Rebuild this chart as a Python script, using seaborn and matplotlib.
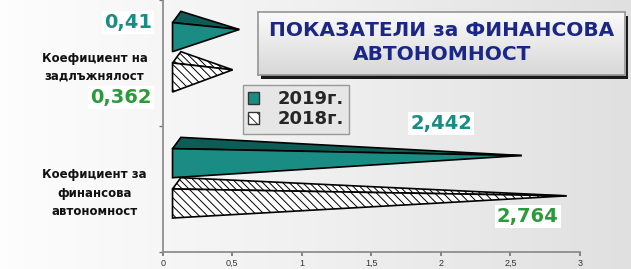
import numpy as np
import pandas as pd
import seaborn as sns
import matplotlib.pyplot as plt
from matplotlib.patches import Polygon, Rectangle, Patch
from matplotlib.colors import LinearSegmentedColormap

indicators = ['Коефициент на\nзадлъжнялост', 'Коефициент за\nфинансова\nавтономност']
years = ['2019г.', '2018г.']
values_2019 = [0.41, 2.442]
values_2018 = [0.362, 2.764]
labels_2019 = ['0,41', '2,442']
labels_2018 = ['0,362', '2,764']
x_ticks = [0, 0.5, 1, 1.5, 2, 2.5, 3]
x_tick_labels = ['0', '0,5', '1', '1,5', '2', '2,5', '3']
title = 'ПОКАЗАТЕЛИ за ФИНАНСОВА\nАВТОНОМНОСТ'

df = pd.DataFrame({
    'indicator': indicators * 2,
    'year': [years[0]] * 2 + [years[1]] * 2,
    'value': values_2019 + values_2018,
})

TEAL = '#1b8c84'
TEAL_DARK = '#0d5c56'
GREEN = '#2a9a3a'
NAVY = '#1b2787'
DEPTH = 0.07   # fake 3d depth along x, data units
LIFT = 0.09    # fake 3d lift along y, data units

sns.set_theme(style='white')
plt.rcParams['font.family'] = ['Liberation Sans', 'DejaVu Sans']
plt.rcParams['hatch.linewidth'] = 0.7
plt.rcParams['hatch.color'] = '#333333'

fig = plt.figure(figsize=(6.31, 2.69), dpi=100)

# background gradient
bg = fig.add_axes([0, 0, 1, 1], zorder=-10)
bg.imshow(np.linspace(0, 1, 256).reshape(1, -1), aspect='auto', extent=[0, 1, 0, 1],
          cmap=LinearSegmentedColormap.from_list('bg', ['#fdfdfd', '#f0f0f0', '#e0e0e0']))
bg.axis('off')

ax = fig.add_axes([0.258, 0.063, 0.661, 0.937])
ax.patch.set_alpha(0)
sns.barplot(data=df, x='value', y='indicator', hue='year', hue_order=years, order=indicators,
            orient='h', width=0.64, ax=ax, legend=False)

# turn the flat bars into pyramids
for k, cont in enumerate(ax.containers):
    for rect in cont:
        y, h, w = rect.get_y() - LIFT, rect.get_height(), rect.get_width()
        rect.set_visible(False)
        apex = (w + 2 * DEPTH, y + 0.45 * h)
        front = [(DEPTH, y + 0.28 * h), (DEPTH, y + h), apex]
        top = [(DEPTH, y + 0.28 * h), (DEPTH + 0.06, y), apex]
        if k == 0:
            ax.add_patch(Polygon(top, closed=True, fc=TEAL_DARK, ec='black', lw=1.2, zorder=3))
            ax.add_patch(Polygon(front, closed=True, fc=TEAL, ec='black', lw=1.2, zorder=3))
        else:
            ax.add_patch(Polygon(top, closed=True, fc='white', ec='black', hatch='\\\\\\\\\\',
                                 lw=1.2, zorder=3))
            ax.add_patch(Polygon(front, closed=True, fc='white', ec='black', hatch='\\\\\\\\',
                                 lw=1.2, zorder=3))

# value labels
txt_kw = dict(fontsize=14, fontweight='bold', va='center', zorder=5, family='DejaVu Sans',
              bbox=dict(fc='white', ec='none', pad=1.5))
r19 = list(ax.containers[0])
r18 = list(ax.containers[1])
ax.text(-0.08, r19[0].get_y(), labels_2019[0], color=TEAL, ha='right', **txt_kw)
ax.text(-0.08, r18[0].get_y() + 0.85 * r18[0].get_height(), labels_2018[0], color=GREEN,
        ha='right', **txt_kw)
ax.text(values_2019[1] * 0.82, r19[1].get_y() - 0.2, labels_2019[1], color=TEAL,
        ha='center', **txt_kw)
ax.text(values_2018[1] * 0.95, r18[1].get_y() + 0.68 * r18[1].get_height(), labels_2018[1],
        color=GREEN, ha='center', **txt_kw)

ax.set_xlim(0, 3)
ax.set_ylim(1.5, -0.5)
ax.set_xticks(x_ticks)
ax.set_xticklabels(x_tick_labels, fontsize=6.5, color='#333')
ax.set_yticks([0, 1])
ax.set_yticklabels(indicators, fontsize=8.5, fontweight='bold', color='#111',
                   family='DejaVu Sans', linespacing=1.55)
for tl in ax.get_yticklabels():
    tl.set_ha('center')
    tl.set_multialignment('center')
ax.tick_params(axis='y', length=0, pad=49)
ax.set_yticks([-0.5, 0.5, 1.5], minor=True)
ax.tick_params(axis='y', which='minor', length=3, color='#777', left=True)
ax.tick_params(axis='x', length=3, color='#777', bottom=True, pad=2)
ax.set_xlabel('')
ax.set_ylabel('')
for s in ['top', 'right']:
    ax.spines[s].set_visible(False)
for s in ['left', 'bottom']:
    ax.spines[s].set_color('#8a8a8a')

# title box with shadow
fig.patches.append(Rectangle((0.414, 0.706), 0.582, 0.234, transform=fig.transFigure,
                             fc='#1a1a1a', ec='none', zorder=1))
tax = fig.add_axes([0.409, 0.721, 0.582, 0.234], zorder=2)
tax.imshow(np.linspace(0, 1, 64).reshape(-1, 1), aspect='auto', extent=[0, 1, 0, 1],
           cmap=LinearSegmentedColormap.from_list('tb', ['#fafafa', '#d8d8d8']))
tax.set_xticks([])
tax.set_yticks([])
for s in tax.spines.values():
    s.set_color('#999')
tax.text(0.5, 0.52, title, ha='center', va='center', fontsize=14.5, fontweight='bold',
         family='DejaVu Sans', color=NAVY, linespacing=1.3, transform=tax.transAxes)

# legend
handles = [Patch(fc=TEAL, ec='#333', label=years[0]),
           Patch(fc='white', ec='#333', hatch='\\\\\\', label=years[1])]
leg = fig.legend(handles=handles, loc='upper left', bbox_to_anchor=(0.385, 0.684),
                 borderaxespad=0,
                 prop={'size': 13, 'weight': 'bold', 'family': 'DejaVu Sans'},
                 frameon=True, fancybox=False,
                 facecolor='#e6e6e6', edgecolor='#999', framealpha=1,
                 handlelength=0.6, handleheight=0.6, handletextpad=1.0,
                 labelspacing=0.1, borderpad=0.3)
leg.set_zorder(6)

fig.savefig('out.png', dpi=100)
